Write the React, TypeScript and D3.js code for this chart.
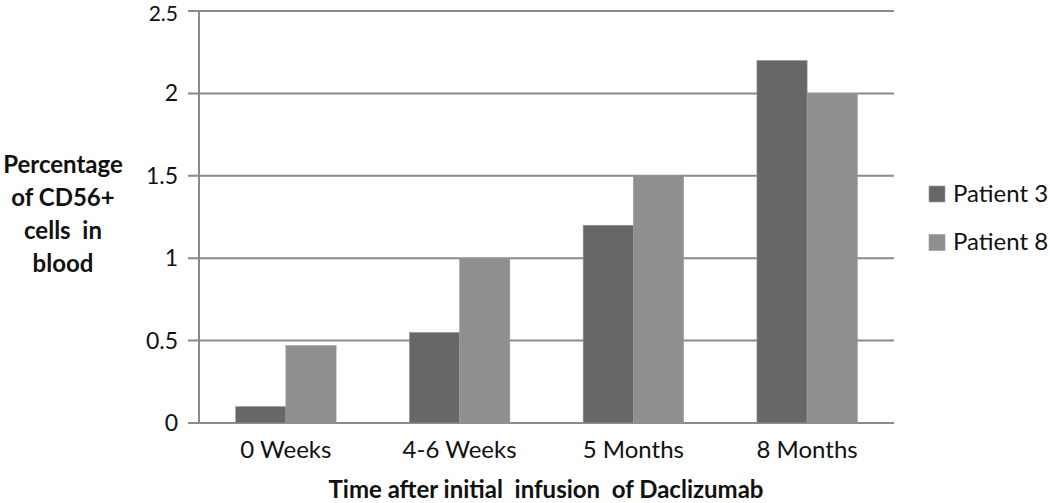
import React from "react";
import * as d3 from "d3";

const categories = ["0 Weeks", "4-6 Weeks", "5 Months", "8 Months"];
const seriesNames = ["Patient 3", "Patient 8"];
const patient3 = [0.1, 0.55, 1.2, 2.2];
const patient8 = [0.47, 1.0, 1.5, 2.0];
const yTicks = [0, 0.5, 1, 1.5, 2, 2.5];
const yTickLabels = ["0", "0.5", "1", "1.5", "2", "2.5"];
const yLabelLines = ["Percentage", "of CD56+", "cells  in", "blood"];
const xTitle = "Time after initial  infusion  of Daclizumab";
const colors = ["#676767", "#8f8f8f"];

const W = 1050;
const H = 503;
const FONT = "Lato, 'Open Sans', sans-serif";

export default function App() {
  const left = 199, right = 894, top = 11, bottom = 423;
  const x = d3.scaleBand<string>().domain(categories).range([left, right]).paddingInner(0).paddingOuter(0);
  const y = d3.scaleLinear().domain([0, 2.5]).range([bottom, top]);
  const inner = d3.scaleBand<number>().domain([0, 1]).range([0, x.bandwidth()]).paddingInner(0).paddingOuter(0.73);
  const series = [patient3, patient8];
  const last = yTicks.length - 1;

  return (
    <svg width={W} height={H} style={{ position: "absolute", left: 0, top: 0, background: "#fff" }} fontFamily={FONT}>
      <rect x={0} y={0} width={W} height={H} fill="#fff" />
      {yTicks.map((t, i) => (
        <g key={"g" + i}>
          <line x1={188} x2={right} y1={y(t)} y2={y(t)} stroke="#8a8a8a" strokeWidth={2} />
          <text x={178} y={y(t) + (i === last ? 10 : 8)} textAnchor="end" fontSize={i === last ? 21 : 23} fill="#111">{yTickLabels[i]}</text>
        </g>
      ))}
      <line x1={left} x2={left} y1={top} y2={bottom} stroke="#8a8a8a" strokeWidth={2} />
      {categories.map((c, ci) =>
        series.map((s, si) => (
          <rect
            key={c + si}
            x={(x(c) as number) + (inner(si) as number)}
            y={y(s[ci])}
            width={inner.bandwidth()}
            height={bottom - y(s[ci])}
            fill={colors[si]}
            stroke="#9a9a9a"
            strokeWidth={0.6}
          />
        ))
      )}
      {categories.map((c) => (
        <text key={"xl" + c} x={(x(c) as number) + x.bandwidth() / 2} y={458} textAnchor="middle" fontSize={24} fill="#111">{c}</text>
      ))}
      <text x={546} y={498} textAnchor="middle" fontSize={24} fontWeight="bold" fill="#111" style={{ whiteSpace: "pre" }}>{xTitle}</text>
      {yLabelLines.map((l, i) => (
        <text key={"yl" + i} x={63} y={173 + i * 33} textAnchor="middle" fontSize={24} fontWeight="bold" fill="#111" style={{ whiteSpace: "pre" }}>{l}</text>
      ))}
      {seriesNames.map((n, i) => (
        <g key={n}>
          <rect x={929} y={186 + i * 48.5} width={16} height={16} fill={colors[i]} stroke="#9a9a9a" strokeWidth={0.6} />
          <text x={953} y={202 + i * 48} fontSize={24} fill="#111">{n}</text>
        </g>
      ))}
    </svg>
  );
}
